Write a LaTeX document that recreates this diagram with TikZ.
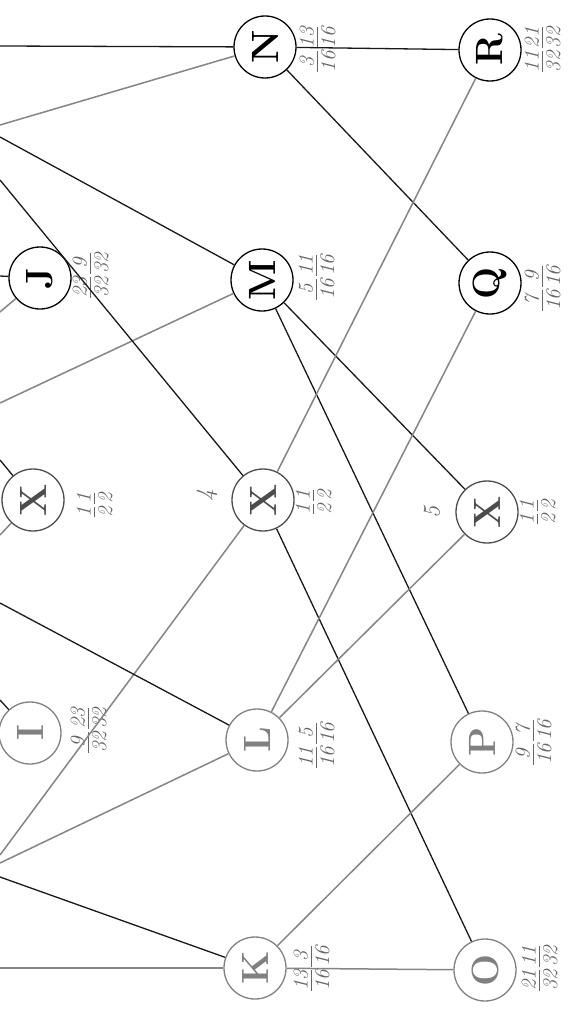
\documentclass[tikz,border=0pt]{standalone}
\newcommand{\fr}[2]{\begin{tabular}{@{}c@{}}#1\\[-3pt]\hline\rule{0pt}{17pt}#2\end{tabular}}
\newcommand{\frr}[4]{\fr{#1}{#2}\hspace{3pt}\fr{#3}{#4}}
\begin{document}
\begin{tikzpicture}[x=1pt,y=-1pt,
  pnode/.style={circle, draw=#1, line width=1.3pt, minimum size=62pt, inner sep=0pt,
    text=#1, font=\fontsize{38}{38}\selectfont\bfseries, rotate=90},
  frac/.style={rotate=90, text=black!60, font=\fontsize{21}{22}\selectfont\itshape, inner sep=0pt},
  numlab/.style={rotate=90, text=black!60, font=\fontsize{24}{24}\selectfont\itshape, inner sep=0pt},
  blk/.style={draw=black!90, line width=1.3pt},
  gry/.style={draw=black!48, line width=1.5pt}]
\useasboundingbox (0,0) rectangle (569,1022);
\fill[white] (0,0) rectangle (569,1022);
\arrayrulewidth=0.9pt

% nodes
\node[pnode=black] (N) at (265,47) {N};
\node[pnode=black] (M) at (262,280) {M};
\node[pnode=black!70] (X4) at (263,500) {X};
\node[pnode=black!50] (L) at (257,740) {L};
\node[pnode=black!50] (K) at (255,968) {K};
\node[pnode=black] (R) at (490,50) {R};
\node[pnode=black] (Q) at (490,283) {Q};
\node[pnode=black!70] (X5) at (487,512) {X};
\node[pnode=black!50] (P) at (482,742) {P};
\node[pnode=black!50] (O) at (485,970) {O};
\node[pnode=black] (J) at (40,278) {J};
\node[pnode=black!70] (XL) at (33,500) {X};
\node[pnode=black!50] (I) at (30,733) {I};

% labels
\node[frac] (lN) at (320,50) {\frr{3}{16}{13}{16}};
\node[frac] (lM) at (319,277) {\frr{5}{16}{11}{16}};
\node[frac] (lX4) at (316,502) {\frr{1}{2}{1}{2}};
\node[frac] (lL) at (319,745) {\frr{11}{16}{5}{16}};
\node[frac] (lK) at (314,968) {\frr{13}{16}{3}{16}};
\node[frac] (lR) at (545,50) {\frr{11}{32}{21}{32}};
\node[frac] (lQ) at (545,288) {\frr{7}{16}{9}{16}};
\node[frac] (lX5) at (540,512) {\frr{1}{2}{1}{2}};
\node[frac] (lP) at (536,742) {\frr{9}{16}{7}{16}};
\node[frac] (lO) at (542,968) {\frr{21}{32}{11}{32}};
\node[frac] (lJ) at (93,275) {\frr{23}{32}{9}{32}};
\node[frac] (lXL) at (97,505) {\frr{1}{2}{1}{2}};
\node[frac] (lI) at (91,730) {\frr{9}{32}{23}{32}};
\node[numlab] (n4) at (207,495) {4};
\node[numlab] (n5) at (432,512) {5};

% off-page ends
\coordinate (eNb) at (0,46);
\coordinate (eNg) at (0,125);
\coordinate (eMb) at (0,137);
\coordinate (eMg) at (0,403);
\coordinate (eXb) at (0,180);
\coordinate (eXg) at (0,855);
\coordinate (eLb) at (0,603);
\coordinate (eLg) at (0,863);
\coordinate (eKb) at (0,877);
\coordinate (eKg) at (0,968);
\coordinate (eJb) at (0,276);
\coordinate (eJg) at (0,312);
\coordinate (eXLb) at (0,460);
\coordinate (eXLg) at (0,535);
\coordinate (eIb) at (0,700);

% connectors from the left
\draw[blk] (eNb) -- (N);
\draw[gry] (eNg) -- (N);
\draw[blk] (eMb) -- (M);
\draw[gry] (eMg) -- (M);
\draw[blk] (eXb) -- (X4);
\draw[gry] (eXg) -- (X4);
\draw[blk] (eLb) -- (L);
\draw[gry] (eLg) -- (L);
\draw[blk] (eKb) -- (K);
\draw[gry] (eKg) -- (K);
\draw[blk] (eJb) -- (J);
\draw[gry] (eJg) -- (J);
\draw[blk] (eXLb) -- (XL);
\draw[gry] (eXLg) -- (XL);
\draw[blk] (eIb) -- (I);

% connectors between generations
\draw[blk] (N) -- (R);
\draw[blk] (N) -- (Q);
\draw[blk] (M) -- (X5);
\draw[blk] (M) -- (P);
\draw[blk] (X4) -- (O);
\draw[gry] (X4) -- (R);
\draw[gry] (L) -- (Q);
\draw[gry] (L) -- (X5);
\draw[gry] (K) -- (P);
\draw[gry] (K) -- (O);
\end{tikzpicture}
\end{document}
